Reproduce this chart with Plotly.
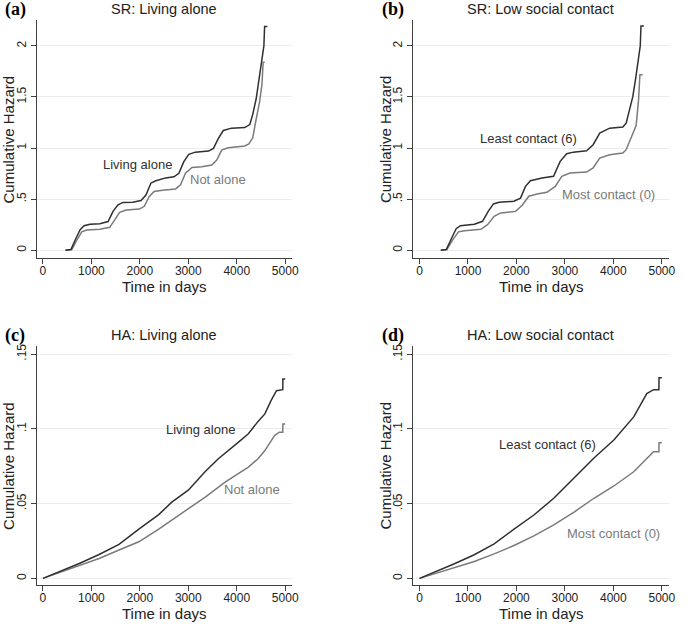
import plotly.graph_objects as go
from plotly.subplots import make_subplots

# values (cumulative hazard vs days)
# (a) SR: Living alone
sr_alone_t = [462, 577, 666, 768, 849, 971, 1175, 1345, 1447, 1549, 1651, 1855, 2024, 2126, 2228, 2330,
              2534, 2704, 2806, 2908, 3010, 3145, 3417, 3519, 3621, 3723, 3893, 4165, 4270, 4330, 4400,
              4460, 4520, 4560, 4575, 4632]
sr_alone_h = [0, 0.006, 0.10, 0.20, 0.24, 0.253, 0.26, 0.28, 0.38, 0.445, 0.468, 0.47, 0.487, 0.54, 0.656, 0.68,
              0.708, 0.718, 0.753, 0.867, 0.938, 0.96, 0.97, 0.997, 1.094, 1.172, 1.195, 1.2, 1.23, 1.33, 1.48,
              1.66, 1.84, 2.0, 2.19, 2.19]
sr_notalone_t = [476, 598, 686, 802, 904, 1175, 1379, 1481, 1583, 1719, 1990, 2092, 2194, 2296, 2466, 2738,
                 2840, 2942, 3077, 3281, 3485, 3587, 3689, 3825, 4165, 4250, 4330, 4400, 4470, 4520, 4545, 4578]
sr_notalone_h = [0, 0.006, 0.088, 0.18, 0.198, 0.205, 0.224, 0.30, 0.37, 0.393, 0.403, 0.43, 0.526, 0.575, 0.588, 0.60,
                 0.64, 0.753, 0.81, 0.818, 0.834, 0.883, 0.98, 1.003, 1.02, 1.04, 1.10, 1.28, 1.45, 1.62, 1.84, 1.84]

# (b) SR: Low social contact
sr_least_t = [436, 552, 654, 756, 845, 1131, 1301, 1417, 1526, 1642, 1948, 2084, 2187, 2289, 2527, 2766,
              2902, 3038, 3174, 3447, 3583, 3719, 3924, 4196, 4264, 4330, 4400, 4460, 4520, 4555, 4570, 4630]
sr_least_h = [0, 0.006, 0.11, 0.21, 0.24, 0.254, 0.283, 0.38, 0.453, 0.469, 0.479, 0.51, 0.625, 0.68, 0.707, 0.723,
              0.87, 0.945, 0.96, 0.974, 1.033, 1.147, 1.195, 1.205, 1.244, 1.36, 1.50, 1.68, 1.86, 2.0, 2.195, 2.195]
sr_most_t = [450, 565, 688, 804, 926, 1267, 1403, 1540, 1676, 1982, 2119, 2255, 2425, 2629, 2800, 2936,
             3106, 3447, 3583, 3719, 3924, 4196, 4264, 4400, 4470, 4520, 4548, 4605]
sr_most_h = [0, 0.006, 0.104, 0.18, 0.19, 0.205, 0.25, 0.332, 0.365, 0.38, 0.44, 0.528, 0.55, 0.567, 0.625, 0.723,
             0.756, 0.765, 0.805, 0.902, 0.935, 0.951, 0.984, 1.15, 1.22, 1.47, 1.717, 1.717]

# (c) HA: Living alone
ha_alone_t = [0, 340, 750, 1160, 1570, 1980, 2390, 2660, 3000, 3350, 3620, 4030, 4240, 4440, 4580, 4710,
              4780, 4820, 4950, 4952, 5000]
ha_alone_h = [0, 0.0044, 0.010, 0.016, 0.0227, 0.033, 0.0427, 0.051, 0.059, 0.0715, 0.080, 0.091, 0.0967, 0.105,
              0.110, 0.119, 0.1233, 0.1255, 0.1262, 0.1333, 0.1333]
ha_notalone_t = [0, 340, 750, 1160, 1570, 1980, 2390, 2660, 3000, 3350, 3760, 4030, 4240, 4440, 4580, 4710,
                 4780, 4880, 4950, 4952, 5000]
ha_notalone_h = [0, 0.0038, 0.0084, 0.0133, 0.019, 0.0245, 0.033, 0.039, 0.047, 0.0544, 0.0644, 0.070, 0.0744,
                 0.080, 0.0855, 0.092, 0.0955, 0.0978, 0.0978, 0.1033, 0.1033]

# (d) HA: Low social contact
ha_least_t = [0, 310, 720, 1130, 1540, 1950, 2360, 2770, 3190, 3600, 4010, 4420, 4690, 4830, 4940, 4942, 5000]
ha_least_h = [0, 0.004, 0.0098, 0.0158, 0.0231, 0.0329, 0.0424, 0.0536, 0.0669, 0.0805, 0.0925, 0.108, 0.1236,
              0.1262, 0.1262, 0.1342, 0.1342]
ha_most_t = [0, 310, 720, 1130, 1540, 1950, 2360, 2770, 3190, 3600, 4010, 4420, 4690, 4830, 4940, 4942, 5000]
ha_most_h = [0, 0.0031, 0.0071, 0.0113, 0.0164, 0.022, 0.0284, 0.0358, 0.0444, 0.0536, 0.0618, 0.0713, 0.0802,
             0.0847, 0.0847, 0.0907, 0.0907]

titles = ["SR: Living alone", "SR: Low social contact", "HA: Living alone", "HA: Low social contact"]
panel_tags = ["(a)", "(b)", "(c)", "(d)"]
x_ticks = [0, 1000, 2000, 3000, 4000, 5000]
sr_yticks = [0, 0.5, 1, 1.5, 2]
sr_ytext = ["0", ".5", "1", "1.5", "2"]
ha_yticks = [0, 0.05, 0.1, 0.15]
ha_ytext = ["0", ".05", ".1", ".15"]

DARK = "#303030"
GRAY = "#7a7a7a"
FONT = "Liberation Sans"

W, H = 685, 624

fig = make_subplots(rows=2, cols=2)

series = [
    (1, 1, sr_alone_t, sr_alone_h, sr_notalone_t, sr_notalone_h),
    (1, 2, sr_least_t, sr_least_h, sr_most_t, sr_most_h),
    (2, 1, ha_alone_t, ha_alone_h, ha_notalone_t, ha_notalone_h),
    (2, 2, ha_least_t, ha_least_h, ha_most_t, ha_most_h),
]
for r, c, t1, h1, t2, h2 in series:
    fig.add_trace(go.Scatter(x=t2, y=h2, mode="lines", line=dict(color=GRAY, width=1.5),
                             showlegend=False, hoverinfo="skip"), row=r, col=c)
    fig.add_trace(go.Scatter(x=t1, y=h1, mode="lines", line=dict(color=DARK, width=1.5),
                             showlegend=False, hoverinfo="skip"), row=r, col=c)

# panel boxes in pixels: left, right, top, bottom
boxes = [(37, 295, 18, 257), (417.5, 675.5, 18, 257), (37, 295, 345, 585), (417.5, 675.5, 345, 585)]
yranges = [[-0.078, 2.254], [-0.078, 2.254], [-0.0045, 0.1555], [-0.0045, 0.1555]]


def ann(x, y, text, size, color="#222", family=FONT, angle=0, xanchor="center"):
    fig.add_annotation(x=x / W, y=1 - y / H, xref="paper", yref="paper", text=text, showarrow=False,
                       xanchor=xanchor, yanchor="middle", textangle=angle,
                       font=dict(family=family, size=size, color=color))


for i, (l, rgt, top, bot) in enumerate(boxes):
    n = "" if i == 0 else str(i + 1)
    sr = i < 2
    fig.layout["xaxis" + n].update(
        domain=[l / W, rgt / W], range=[-130, 5140], tickvals=x_ticks,
        showline=True, linecolor="#404040", linewidth=1, ticks="outside", ticklen=5,
        tickcolor="#404040", showgrid=False, zeroline=False, ticklabelstandoff=-4,
        tickfont=dict(family=FONT, size=12, color="#222"),
    )
    fig.layout["yaxis" + n].update(
        domain=[1 - bot / H, 1 - top / H], range=yranges[i],
        tickvals=sr_yticks if sr else ha_yticks, ticktext=sr_ytext if sr else ha_ytext,
        tickangle=-90, showline=True, linecolor="#404040", linewidth=1, ticks="outside", ticklen=5,
        tickcolor="#404040", showgrid=True, gridcolor="#ececec", gridwidth=1, zeroline=False,
        tickfont=dict(family=FONT, size=12, color="#222"),
    )
    cx = (l + rgt) / 2
    ann(cx, top - 11, titles[i], 14.5)
    ann(l - 34, top - 10, "<b>" + panel_tags[i] + "</b>", 18, "#000", "Liberation Serif", xanchor="left")
    ann(cx, bot + 28.5, "Time in days", 15)
    ann(l - 28.5, (top + bot) / 2, "Cumulative Hazard", 15, angle=-90)

labels = [
    (1, 1944, 0.842, "Living alone", DARK), (1, 3617, 0.690, "Not alone", GRAY),
    (2, 2254, 1.09, "Least contact (6)", DARK), (2, 3903, 0.543, "Most contact (0)", GRAY),
    (3, 3245, 0.0996, "Living alone", DARK), (3, 4310, 0.0593, "Not alone", GRAY),
    (4, 2650, 0.0893, "Least contact (6)", DARK), (4, 4010, 0.0298, "Most contact (0)", GRAY),
]
for k, tx, ty, txt, col in labels:
    n = "" if k == 1 else str(k)
    fig.add_annotation(x=tx, y=ty, xref="x" + n, yref="y" + n, text=txt, showarrow=False,
                       xanchor="center", yanchor="middle",
                       font=dict(family=FONT, size=13, color=col))

fig.update_layout(width=W, height=H, margin=dict(l=0, r=0, t=0, b=0),
                  plot_bgcolor="white", paper_bgcolor="white", hovermode=False)
# page body has an 8px default margin; drop it so the figure sits at the window corner
fig.write_html("out.html", config={"displayModeBar": False},
               post_script="document.body.style.margin='0px';")
